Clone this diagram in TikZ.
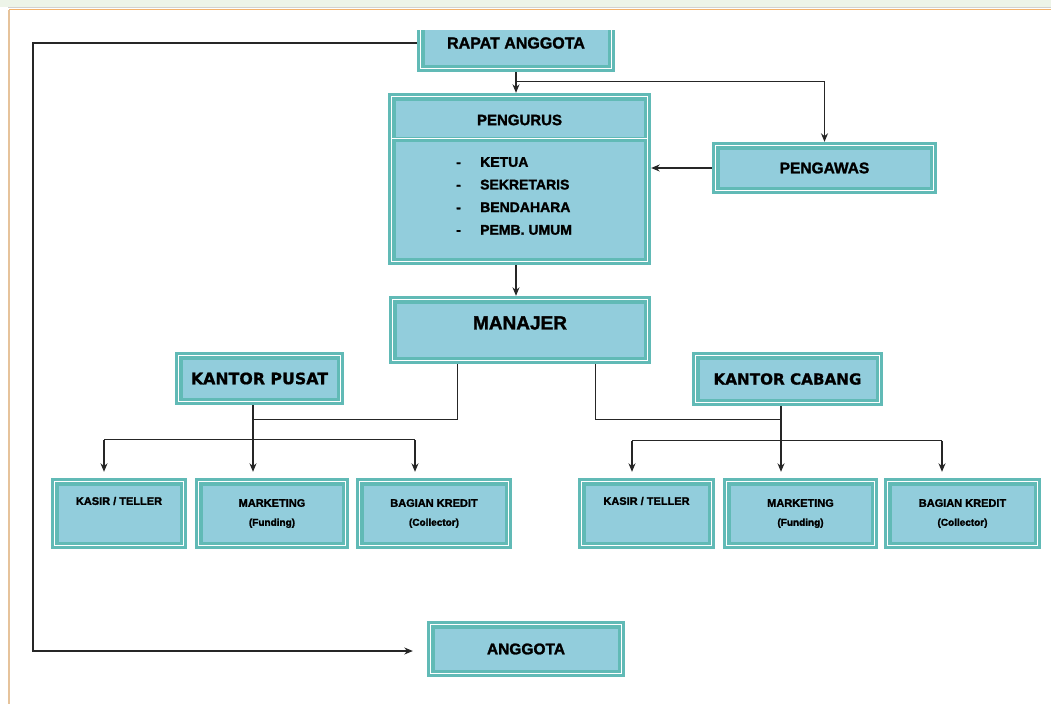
\documentclass[tikz,border=0pt]{standalone}
\usepackage{fontspec}
\setmainfont{Liberation Sans}
\newfontfamily\heavy{Liberation Sans Bold}[FakeBold=1.6]
\newfontfamily\verd{DejaVu Sans Bold}[FakeBold=0.8]
\usetikzlibrary{calc,arrows.meta}
\definecolor{tealc}{HTML}{61BAB6}
\definecolor{boxfill}{HTML}{92CDDC}
\definecolor{frameor}{HTML}{F2B26A}
\definecolor{frametan}{HTML}{E6C39B}
\definecolor{wmark}{HTML}{EDF4E8}
\newcommand\upby[2]{\raisebox{#1pt}[\height][\depth]{#2}}
\tikzset{
  orgbox/.style={rectangle, fill=boxfill, draw=none, inner sep=0pt, align=center, text=black},
  conn/.style={line width=1.1pt, draw=black!85},
  arr/.style={conn, -{Stealth[length=8.5pt,width=7pt]}},
  bigtxt/.style={font=\heavy\fontsize{15.5}{18}\selectfont},
  smalltxt/.style={font=\heavy\fontsize{11}{19}\selectfont},
}
\begin{document}
\begin{tikzpicture}[x=1pt,y=-1pt]
\useasboundingbox (0,0) rectangle (1051,704);
\fill[white] (0,0) rectangle (1051,704);
% page frame and faint header strip
\fill[wmark] (0,0) rectangle (1051,7);
\draw[black!18, line width=1.2pt] (8,7.6) -- (1051,7.6);
\draw[frameor, line width=1.6pt] (9,9.6) -- (1051,9.6);
\draw[frametan, line width=1.6pt] (9,9.6) -- (9,704);

% nodes
\node[orgbox, minimum width=198, minimum height=58, font=\heavy\fontsize{16}{18}\selectfont] (ra) at (516,43) {RAPAT ANGGOTA};
\node[orgbox, minimum width=263, minimum height=172, font=\heavy\fontsize{15}{18}\selectfont] (pg) at (519.5,179) {\upby{59}{PENGURUS}};
\node[orgbox, minimum width=225, minimum height=52, bigtxt] (pgw) at (824.5,168) {PENGAWAS};
\node[orgbox, minimum width=262, minimum height=68, font=\heavy\fontsize{19}{22}\selectfont] (mj) at (520,330) {\upby{7}{MANAJER}};
\node[orgbox, minimum width=169, minimum height=53, font=\verd\fontsize{15.8}{18}\selectfont] (kp) at (259.5,378.5) {KANTOR PUSAT};
\node[orgbox, minimum width=191, minimum height=54, font=\verd\fontsize{15.2}{18}\selectfont] (kc) at (787.5,379) {KANTOR CABANG};
\node[orgbox, minimum width=136, minimum height=71, smalltxt] (kas1) at (119,513.5) {\upby{12.5}{KASIR / TELLER}};
\node[orgbox, minimum width=154, minimum height=71, smalltxt] (mkt1) at (272,513.5) {MARKETING\\{\fontsize{10}{19}\selectfont (Funding)}};
\node[orgbox, minimum width=156, minimum height=71, smalltxt] (bk1) at (434,513.5) {BAGIAN KREDIT\\{\fontsize{10}{19}\selectfont (Collector)}};
\node[orgbox, minimum width=137, minimum height=71, smalltxt] (kas2) at (646.5,513.5) {\upby{12.5}{KASIR / TELLER}};
\node[orgbox, minimum width=155, minimum height=71, smalltxt] (mkt2) at (800.5,513.5) {MARKETING\\{\fontsize{10}{19}\selectfont (Funding)}};
\node[orgbox, minimum width=157, minimum height=71, smalltxt] (bk2) at (962.5,513.5) {BAGIAN KREDIT\\{\fontsize{10}{19}\selectfont (Collector)}};
\node[orgbox, minimum width=198, minimum height=56, bigtxt] (ang) at (526,649) {ANGGOTA};

% box borders
\foreach \n in {ra,pg,pgw,mj,kp,kc,kas1,mkt1,bk1,kas2,mkt2,bk2,ang} {
  \draw[tealc, line width=3pt] ($(\n.north west)+(1.5,1.5)$) rectangle ($(\n.south east)+(-1.5,-1.5)$);
  \draw[white, line width=1.2pt] ($(\n.north west)+(3.6,3.6)$) rectangle ($(\n.south east)+(-3.6,-3.6)$);
  \draw[tealc, line width=3.5pt] ($(\n.north west)+(5.95,5.95)$) rectangle ($(\n.south east)+(-5.95,-5.95)$);
}
% pengurus header divider
\draw[tealc, line width=5pt] ($(pg.north west)+(4,47)$) -- ($(pg.north east)+(-4,47)$);
\draw[white, line width=0.8pt] ($(pg.north west)+(4,45.5)$) -- ($(pg.north east)+(-4,45.5)$);
% pengurus list
\node[anchor=west, inner sep=0pt, align=left, font=\heavy\fontsize{14}{22.6}\selectfont] (pgl) at (456,196)
  {\makebox[24pt][l]{-}KETUA\\\makebox[24pt][l]{-}SEKRETARIS\\\makebox[24pt][l]{-}BENDAHARA\\\makebox[24pt][l]{-}PEMB. UMUM};

% top of RAPAT ANGGOTA box cut off by the page
\fill[white] (405,11) rectangle (630,30);

% connectors
\draw[arr] (ra.west) -| (33,651) -- ($(ang.west)+(-14,2)$);
\draw[arr] (ra.south) -- (ra.south |- pg.north);
\draw[arr] ($(ra.south)+(0,9)$) -| (pgw.north);
\draw[arr] (pgw.west) -- (pgw.west -| pg.east);
\draw[arr] (ra.south |- pg.south) -- (ra.south |- mj.north);

\coordinate (kpd) at ($(kp.south)+(-6.5,0)$);
\coordinate (kcd) at ($(kc.south)+(-6.5,0)$);
\draw[conn] ($(mj.south west)+(69,0)$) |- ($(kpd)+(0,14)$);
\draw[conn] ($(mj.south east)+(-56,0)$) |- ($(kcd)+(0,13)$);
\draw[conn] (kpd) -- ($(kpd)+(0,35)$);
\draw[conn] (kcd) -- ($(kcd)+(0,35)$);
% left branch
\draw[conn] ($(kas1.north)+(-15,-38)$) -- ($(bk1.north)+(-19,-38)$);
\draw[arr] ($(kas1.north)+(-15,-38)$) -- ($(kas1.north)+(-15,-6)$);
\draw[arr] ($(mkt1.north)+(-19,-38)$) -- ($(mkt1.north)+(-19,-6)$);
\draw[arr] ($(bk1.north)+(-19,-38)$) -- ($(bk1.north)+(-19,-6)$);
% right branch
\draw[conn] ($(kas2.north)+(-14.5,-37)$) -- ($(bk2.north)+(-20.5,-37)$);
\draw[arr] ($(kas2.north)+(-14.5,-37)$) -- ($(kas2.north)+(-14.5,-6)$);
\draw[arr] ($(mkt2.north)+(-19.5,-37)$) -- ($(mkt2.north)+(-19.5,-6)$);
\draw[arr] ($(bk2.north)+(-20.5,-37)$) -- ($(bk2.north)+(-20.5,-6)$);
\end{tikzpicture}
\end{document}
